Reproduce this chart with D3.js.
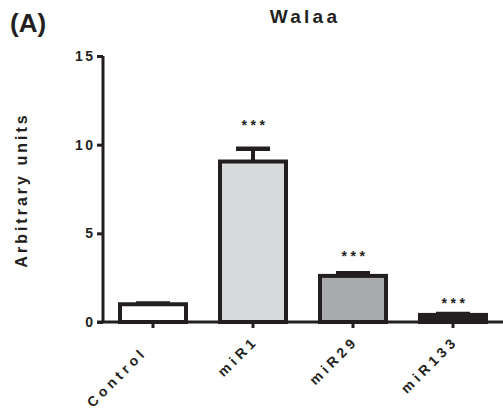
<!DOCTYPE html>
<html>
<head>
<meta charset="utf-8">
<script src="https://cdn.jsdelivr.net/npm/d3@7"></script>
<style>
  body { margin: 0; background: #fff; }
  svg { display: block; font-family: "Liberation Sans", Arial, sans-serif; }
  .axis path, .axis line { stroke: #231f20; stroke-width: 3; }
  .axis text { font-size: 14px; font-weight: bold; fill: #231f20; }
</style>
</head>
<body>
<div id="chart"></div>
<script>
// data
const groups  = ["Control", "miR1", "miR29", "miR133"];
const xLabels = ["Control\u00a0\u00a0", "miR1", "miR29", "miR133"];
const means   = [1.0, 9.05, 2.6, 0.4];
const errs    = [0.05, 0.72, 0.15, 0.05];
const fills   = ["#ffffff", "#d9dadc", "#a9aaad", "#231f20"];
const stars   = ["", "***", "***", "***"];
const starAt  = [0, 11.2, 3.85, 1.2];   // y position of the *** marks (data units)
const yTicks  = [0, 5, 10, 15];

const W = 503, H = 412;
const svg = d3.select("#chart").append("svg")
  .attr("width", W).attr("height", H);

const x = d3.scaleBand().domain(groups).range([103, 503])
  .paddingInner(0.3).paddingOuter(0.15);
const y = d3.scaleLinear().domain([0, 15]).range([322, 56]);

// panel letter + title
svg.append("text").attr("x", 10).attr("y", 32)
  .style("font-size", "26px").style("font-weight", "bold")
  .style("fill", "#231f20")
  .text("(A)");
svg.append("text").attr("x", 305).attr("y", 23)
  .attr("text-anchor", "middle")
  .style("font-size", "19px").style("font-weight", "bold")
  .style("letter-spacing", "3.3px").style("fill", "#231f20")
  .text("Walaa");

// y label
svg.append("text")
  .attr("transform", "translate(27,190) rotate(-90)")
  .attr("text-anchor", "middle")
  .style("font-size", "16px").style("font-weight", "bold")
  .style("letter-spacing", "3px").style("fill", "#231f20")
  .text("Arbitrary units");

// bars
const rows = groups.map((g, i) => ({ g, m: means[i], e: errs[i], f: fills[i], s: stars[i], sy: starAt[i] }));
const bw = x.bandwidth();

const bar = svg.selectAll(".bar").data(rows).enter().append("g").attr("class", "bar");

// error bars (upper only)
bar.append("line")
  .attr("x1", d => x(d.g) + bw / 2).attr("x2", d => x(d.g) + bw / 2)
  .attr("y1", d => y(d.m)).attr("y2", d => y(d.m + d.e))
  .attr("stroke", "#231f20").attr("stroke-width", 4);
bar.append("line")
  .attr("x1", d => x(d.g) + bw / 2 - 17).attr("x2", d => x(d.g) + bw / 2 + 17)
  .attr("y1", d => y(d.m + d.e)).attr("y2", d => y(d.m + d.e))
  .attr("stroke", "#231f20").attr("stroke-width", 4.5);

bar.append("rect")
  .attr("x", d => x(d.g) + 2)
  .attr("width", bw - 4)
  .attr("y", d => y(d.m))
  .attr("height", d => y(0) - y(d.m))
  .attr("fill", d => d.f)
  .attr("stroke", "#231f20").attr("stroke-width", 4);

bar.filter(d => d.s).append("text")
  .attr("x", d => x(d.g) + bw / 2 + 2)
  .attr("y", d => y(d.sy) + 7)
  .attr("text-anchor", "middle")
  .style("font-size", "14px").style("font-weight", "bold")
  .style("letter-spacing", "3.5px")
  .style("fill", "#231f20")
  .text(d => d.s);

// axes
const yAxis = svg.append("g").attr("class", "axis")
  .attr("transform", "translate(103,0)")
  .call(d3.axisLeft(y).tickValues(yTicks).tickSize(6).tickPadding(4).tickSizeOuter(0));
yAxis.select(".domain").attr("d", `M0,${y(0)}V${y(15)}`);
yAxis.selectAll(".tick text").style("letter-spacing", "2.5px").attr("dx", 2.5);

const xAxis = svg.append("g").attr("class", "axis")
  .attr("transform", `translate(0,${y(0)})`)
  .call(d3.axisBottom(x).tickSize(6).tickSizeOuter(0)
    .tickFormat((d, i) => xLabels[i]));
xAxis.select(".domain").attr("d", `M97,0H503`);
xAxis.selectAll(".tick text")
  .attr("text-anchor", "end")
  .attr("x", 0).attr("y", 0).attr("dy", 0)
  .style("letter-spacing", "4px")
  .attr("transform", "translate(6,20) rotate(-45)");
</script>
</body>
</html>
